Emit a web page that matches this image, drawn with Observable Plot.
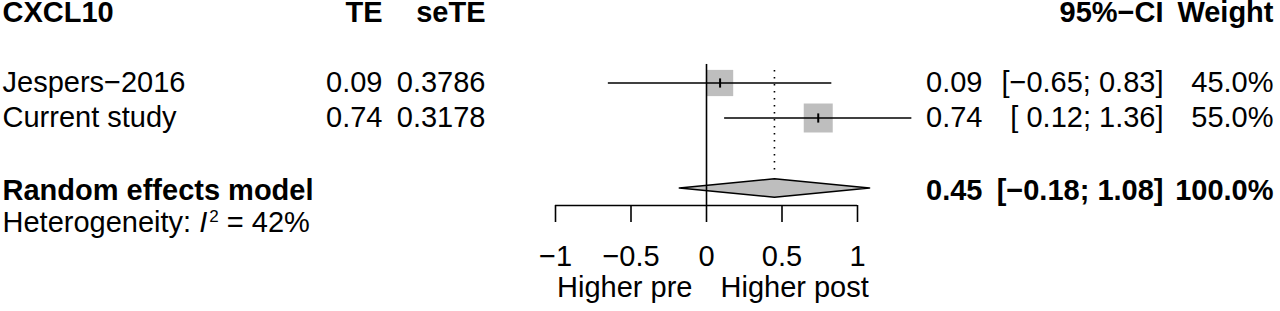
<!DOCTYPE html>
<html><head><meta charset="utf-8">
<script src="https://cdn.jsdelivr.net/npm/d3@7"></script>
<script src="https://cdn.jsdelivr.net/npm/@observablehq/plot@0.6"></script>
<style>
html,body{margin:0;padding:0;background:#fff;}
svg text{white-space:pre;}
</style>
</head><body><div id="chart"></div>
<script>
// ---- data ----
const title = "CXCL10";
const headers = ["TE", "seTE", "95%−CI", "Weight"];
const studies = ["Jespers−2016", "Current study"];
const te = [0.09, 0.74];
const seTE = ["0.3786", "0.3178"];
const lower = [-0.65, 0.12];
const upper = [0.83, 1.36];
const weight = [45.0, 55.0];
const pooledLabel = "Random effects model";
const pooledEst = [0.45];
const pooledLower = [-0.18];
const pooledUpper = [1.08];
const pooledWeight = [100.0];
const i2 = [42];
const xTicks = [-1, -0.5, 0, 0.5, 1];
const directionLabels = ["Higher pre", "Higher post"];

// ---- helpers ----
const mins = s => s.replace("-", "−");
const f2 = v => mins(v.toFixed(2));
const anyNeg = lower.some(v => v < 0);
const ciStr = (lo, hi, negPad) => "[" + (lo < 0 ? f2(lo) : (negPad ? " " : "") + f2(lo)) + "; " + f2(hi) + "]";

// rows: 0 header, 2..3 studies, 5 pooled, 6 heterogeneity
const studyData = studies.map((s, i) => ({
  row: 2 + i, label: s, te: te[i], lower: lower[i], upper: upper[i], weight: weight[i],
  teText: f2(te[i]), seText: seTE[i], estText: f2(te[i]),
  ciText: ciStr(lower[i], upper[i], anyNeg), wText: weight[i].toFixed(1) + "%", bold: false
}));
const poolRow = 5;
const pooledData = [{
  row: poolRow, label: pooledLabel, teText: "", seText: "", estText: f2(pooledEst[0]),
  ciText: ciStr(pooledLower[0], pooledUpper[0], false), wText: pooledWeight[0].toFixed(1) + "%", bold: true
}];
const headerData = [{row: 0, label: title, teText: headers[0], seText: headers[1], estText: "", ciText: headers[2], wText: headers[3], bold: true}];
const hetData = [{row: 6, label: "Heterogeneity: I2 = " + i2[0] + "%"}];

const diamondH = 0.265;
const diamond = [
  {x: pooledLower[0], y: poolRow},
  {x: pooledEst[0], y: poolRow - diamondH},
  {x: pooledUpper[0], y: poolRow},
  {x: pooledEst[0], y: poolRow + diamondH},
  {x: pooledLower[0], y: poolRow}
];

const vline = {draw(ctx, size) { const h = Math.sqrt(size / Math.PI); ctx.moveTo(0, -h); ctx.lineTo(0, h); }};

const FS = 29;
const cols = [
  {key: "label", dx: 2, anchor: "start"},
  {key: "teText", dx: 382, anchor: "end"},
  {key: "seText", dx: 485, anchor: "end"},
  {key: "estText", dx: 982, anchor: "end"},
  {key: "ciText", dx: 1163, anchor: "end"},
  {key: "wText", dx: 1273, anchor: "end"}
];
const textMarks = [];
for (const c of cols) {
  textMarks.push(Plot.text(headerData, {y: "row", text: c.key, frameAnchor: "left", dx: c.dx, textAnchor: c.anchor, fontWeight: "bold", fontSize: FS}));
  textMarks.push(Plot.text(studyData, {y: "row", text: c.key, frameAnchor: "left", dx: c.dx, textAnchor: c.anchor, fontSize: FS}));
  textMarks.push(Plot.text(pooledData, {y: "row", text: c.key, frameAnchor: "left", dx: c.dx, dy: 3, textAnchor: c.anchor, fontWeight: "bold", fontSize: FS}));
}
textMarks.push(Plot.text(hetData, {y: "row", text: "label", frameAnchor: "left", dx: 2, textAnchor: "start", fontSize: FS, className: "het"}));

const dirData = directionLabels.map((t, i) => ({t, side: i}));

const chart = Plot.plot({
  width: 1280,
  height: 311,
  marginTop: 0, marginLeft: 0, marginRight: 0, marginBottom: 106,
  style: {fontFamily: "'Liberation Sans', Arial, Helvetica, sans-serif", background: "#fff", color: "#000", overflow: "visible"},
  x: {domain: [-1, 1], range: [555, 857]},
  y: {domain: [0, 8], range: [12.5, 292.5], axis: null},
  r: {type: "sqrt", domain: [0, 55], range: [0, 16.36]},
  marks: [
    Plot.dot(studyData, {x: "te", y: "row", r: "weight", symbol: "square", fill: "#bebebe", stroke: null}),
    Plot.ruleY(studyData, {y: "row", x1: "lower", x2: "upper", stroke: "#000", strokeWidth: 1.6}),
    Plot.dot(studyData, {x: "te", y: "row", r: 4.6, symbol: vline, stroke: "#000", strokeWidth: 2, fill: "none"}),
    Plot.line(diamond, {x: "x", y: "y", fill: "#bebebe", stroke: "#000", strokeWidth: 1.6}),
    Plot.ruleX(pooledEst, {x: d => d, y1: () => 1.64, y2: () => 4.6, stroke: "#000", strokeWidth: 1.6, strokeDasharray: "1.6,5.4"}),
    Plot.ruleX([0], {x: d => d, y1: () => 1.47, y2: () => 5.5, stroke: "#000", strokeWidth: 1.6}),
    Plot.ruleY([5.5], {y: d => d, x1: () => xTicks[0], x2: () => xTicks[xTicks.length - 1], stroke: "#000", strokeWidth: 1.6}),
    Plot.axisX(xTicks, {anchor: "bottom", tickSize: 17, tickPadding: 23, strokeWidth: 1.6, fontSize: FS, tickFormat: d => mins(String(d)), label: null}),
    Plot.text(dirData, {x: () => 0, y: () => 7.86, text: "t", textAnchor: d => d.side ? "start" : "end", fontSize: FS, className: "dir"}),
    ...textMarks
  ]
});
document.getElementById("chart").appendChild(chart);

// direction labels offset from zero line
d3.select(chart).selectAll("g.dir text").each(function(d, i) {
  const el = d3.select(this);
  const side = dirData[i].side;
  el.attr("text-anchor", side ? "start" : "end");
  const tr = el.attr("transform") || "";
  el.attr("transform", tr + ` translate(${side ? 14 : -14},0)`);
});

// heterogeneity with italic I and superscript 2
d3.select(chart).selectAll("g.het text").each(function() {
  const el = d3.select(this);
  el.text("");
  el.append("tspan").text("Heterogeneity: ");
  el.append("tspan").attr("font-style", "italic").text("I");
  el.append("tspan").attr("font-size", 17).attr("dx", 2).attr("dy", -10).text("2");
  el.append("tspan").attr("dy", 10).text(" = " + i2[0] + "%");
});
</script>
</body></html>
